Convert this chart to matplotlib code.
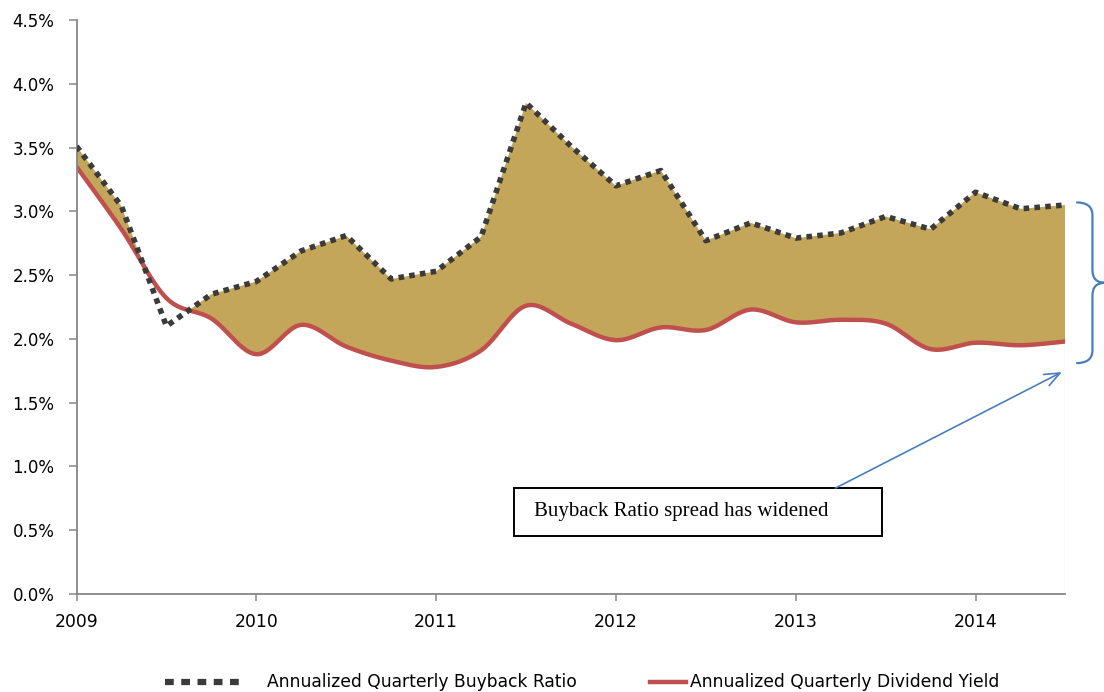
import numpy as np
import matplotlib
matplotlib.use("Agg")
import matplotlib.pyplot as plt
from matplotlib.lines import Line2D
from matplotlib.patches import Rectangle, PathPatch
from matplotlib.path import Path
from matplotlib.ticker import FuncFormatter

# quarterly observations, 2009 Q1 .. 2014 Q3
quarters = np.arange(2009, 2014.51, 0.25)
buyback = [3.51, 3.04, 2.10, 2.35, 2.45, 2.69, 2.81, 2.47, 2.53, 2.80, 3.85, 3.51,
           3.20, 3.32, 2.77, 2.91, 2.79, 2.83, 2.96, 2.86, 3.15, 3.02, 3.05]
dividend = [3.35, 2.86, 2.32, 2.16, 1.88, 2.11, 1.94, 1.83, 1.78, 1.91, 2.26, 2.12,
            1.99, 2.09, 2.07, 2.23, 2.13, 2.15, 2.12, 1.92, 1.97, 1.95, 1.98]
year_ticks = [2009, 2010, 2011, 2012, 2013, 2014]

FILL = '#C4A65A'
RED = '#C0504D'
DOTS = '#3B3B3B'
BLUE = '#4A7EBB'
AXIS = '#868686'


def smooth_line(x, y, steps=24):
    # bezier smoothing like a spreadsheet "smoothed line"
    x = np.asarray(x, float)
    y = np.asarray(y, float)
    px = np.concatenate([[x[0]], x, [x[-1]]])
    py = np.concatenate([[y[0]], y, [y[-1]]])
    t = np.linspace(0, 1, steps, endpoint=False)
    xs, ys = [], []
    for i in range(1, len(px) - 2):
        c1x = px[i] + (px[i + 1] - px[i - 1]) / 6
        c1y = py[i] + (py[i + 1] - py[i - 1]) / 6
        c2x = px[i + 1] - (px[i + 2] - px[i]) / 6
        c2y = py[i + 1] - (py[i + 2] - py[i]) / 6
        b0, b1, b2, b3 = (1 - t) ** 3, 3 * t * (1 - t) ** 2, 3 * t ** 2 * (1 - t), t ** 3
        xs.append(b0 * px[i] + b1 * c1x + b2 * c2x + b3 * px[i + 1])
        ys.append(b0 * py[i] + b1 * c1y + b2 * c2y + b3 * py[i + 1])
    xs.append([x[-1]])
    ys.append([y[-1]])
    return np.concatenate(xs), np.concatenate(ys)


fig = plt.figure(figsize=(11.04, 6.92), dpi=100)
ax = fig.add_axes([0.0693, 0.1416, 0.8958, 0.8295])

dx, dy = smooth_line(quarters, dividend)
by = np.interp(dx, quarters, buyback)

ax.fill_between(dx, dy, by, where=by >= dy, interpolate=True, color=FILL, lw=0, zorder=1)
ax.plot([quarters[-1], quarters[-1]], [0, dividend[-1]], color='#EEE5D6', lw=1, zorder=1)
ax.plot(dx, dy, color=RED, lw=3.2, solid_capstyle='butt', zorder=2)
ax.plot(quarters, buyback, color=DOTS, lw=4.0, linestyle=(0, (1, 0.95)),
        dash_capstyle='butt', zorder=3)

ax.set_xlim(2009, 2014.5)
ax.set_ylim(0, 4.5)
ax.set_yticks(np.arange(0, 4.51, 0.5))
ax.yaxis.set_major_formatter(FuncFormatter(lambda v, p: f'{v:.1f}%'))
ax.set_xticks(year_ticks)
ax.set_xticklabels([str(y) for y in year_ticks], fontsize=12.4)

for s in ['top', 'right']:
    ax.spines[s].set_visible(False)
for s in ['left', 'bottom']:
    ax.spines[s].set_color(AXIS)
    ax.spines[s].set_linewidth(1.3)
ax.tick_params(axis='y', length=6, width=1.1, color=AXIS, labelsize=12, pad=10)
ax.tick_params(axis='x', length=5, width=1.1, color=AXIS, pad=9)

# callout box
ax.add_patch(Rectangle((0.4424, 0.101), 0.372, 0.0836, transform=ax.transAxes,
                       fill=False, ec='black', lw=1.4, zorder=4))
ax.text(0.4626, 0.1429, 'Buyback Ratio spread has widened', transform=ax.transAxes,
        family='Liberation Serif', fontsize=15, va='center', ha='left', zorder=5)
ax.annotate('', xy=(2014.48, 1.74), xycoords='data',
            xytext=(0.7675, 0.1846), textcoords='axes fraction',
            arrowprops=dict(arrowstyle='->,head_length=1.1,head_width=0.45',
                            color=BLUE, lw=1.2, shrinkA=0, shrinkB=0),
            annotation_clip=False, zorder=5)

# brace spanning the spread at the latest quarter
top, bot = 3.07, 1.81
mid = (top + bot) / 2
x0, x1, x2 = 2014.56, 2014.65, 2014.72
r = 0.10
verts = [(x0, top), (x1, top), (x1, top - r),
         (x1, mid + r), (x1, mid), (x2, mid),
         (x1, mid), (x1, mid - r),
         (x1, bot + r), (x1, bot), (x0, bot)]
codes = [Path.MOVETO, Path.CURVE3, Path.CURVE3,
         Path.LINETO, Path.CURVE3, Path.CURVE3,
         Path.CURVE3, Path.CURVE3,
         Path.LINETO, Path.CURVE3, Path.CURVE3]
ax.add_patch(PathPatch(Path(verts, codes), fill=False, ec=BLUE, lw=1.6,
                       clip_on=False, zorder=5))

# legend along the bottom
fig.add_artist(Line2D([0.1495, 0.222], [0.0145, 0.0145], color=DOTS, lw=4.5,
                      linestyle=(0, (1.4, 1.2)), dash_capstyle='butt'))
fig.text(0.242, 0.0145, 'Annualized Quarterly Buyback Ratio', fontsize=12.3,
         va='center')
fig.add_artist(Line2D([0.589, 0.621], [0.0145, 0.0145], color=RED, lw=3.2))
fig.text(0.625, 0.0145, 'Annualized Quarterly Dividend Yield', fontsize=12.3,
         va='center')

fig.savefig('out.png', dpi=100)
